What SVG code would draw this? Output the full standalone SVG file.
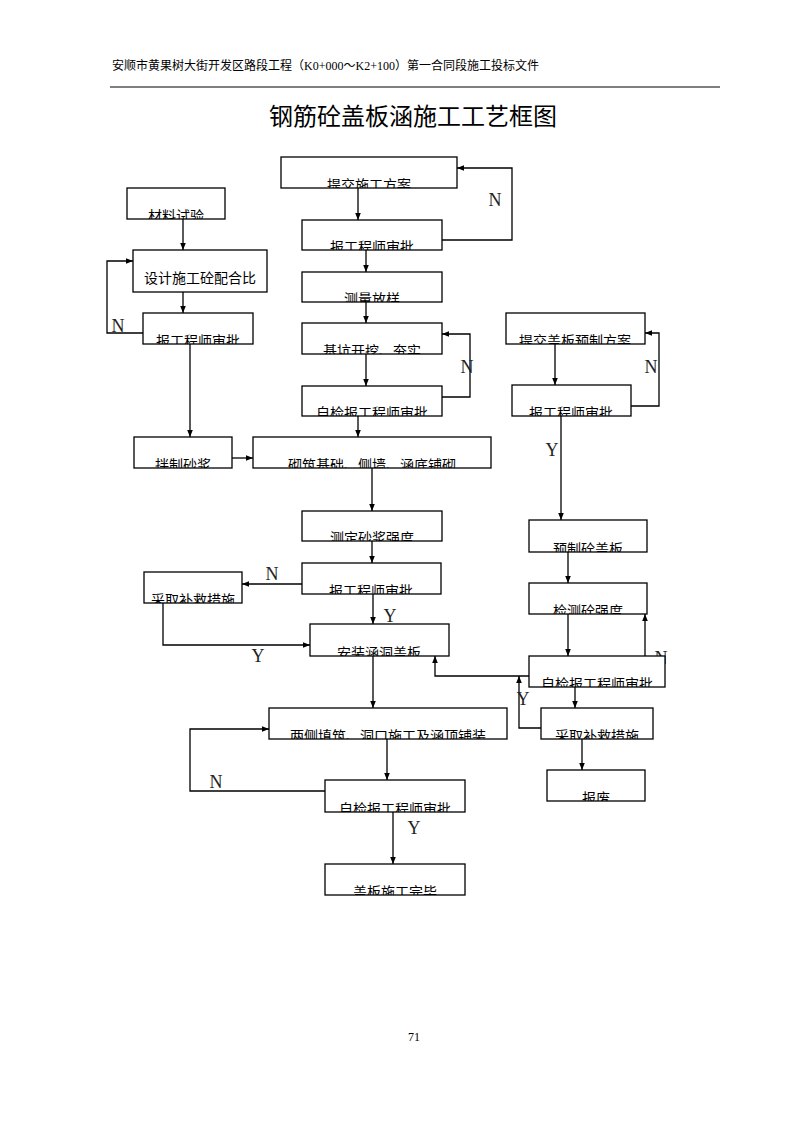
<svg xmlns="http://www.w3.org/2000/svg" xmlns:xlink="http://www.w3.org/1999/xlink" width="794" height="1123" viewBox="0 0 794 1123">
<style>
.bx{fill:#fff;stroke:#000;stroke-width:1.3}
.t{font-family:"Liberation Sans","Noto Sans CJK SC",sans-serif;font-size:14px;fill:#000;text-anchor:middle}
.ln{fill:none;stroke:#000;stroke-width:1.3}
.lb{font-family:"Liberation Serif","DejaVu Serif",serif;font-size:18px;fill:#222;text-anchor:middle}
</style>
<defs>
<marker id="ah" viewBox="0 0 10 10" refX="10" refY="5" markerWidth="7" markerHeight="7" orient="auto" markerUnits="userSpaceOnUse"><path d="M0,1 L10,5 L0,9 z" fill="#000"/></marker>
<clipPath id="c1"><rect x="281" y="157" width="176" height="31"/></clipPath>
<clipPath id="c2"><rect x="302" y="220" width="140" height="30"/></clipPath>
<clipPath id="c3"><rect x="127" y="188" width="98" height="31"/></clipPath>
<clipPath id="c5"><rect x="143" y="313" width="110" height="31"/></clipPath>
<clipPath id="c6"><rect x="302" y="272" width="140" height="30"/></clipPath>
<clipPath id="c7"><rect x="302" y="323" width="140" height="31"/></clipPath>
<clipPath id="c8"><rect x="302" y="386" width="140" height="30"/></clipPath>
<clipPath id="c9"><rect x="506" y="313" width="139" height="31"/></clipPath>
<clipPath id="c10"><rect x="512" y="385" width="119" height="31"/></clipPath>
<clipPath id="c11"><rect x="134" y="437" width="98" height="31"/></clipPath>
<clipPath id="c12"><rect x="253" y="437" width="238" height="31"/></clipPath>
<clipPath id="c13"><rect x="302" y="511" width="140" height="30"/></clipPath>
<clipPath id="c14"><rect x="302" y="563" width="139" height="31"/></clipPath>
<clipPath id="c15"><rect x="144" y="572" width="98" height="31"/></clipPath>
<clipPath id="c16"><rect x="310" y="624" width="139" height="32"/></clipPath>
<clipPath id="c17"><rect x="529" y="520" width="118" height="32"/></clipPath>
<clipPath id="c18"><rect x="529" y="583" width="118" height="31"/></clipPath>
<clipPath id="c19"><rect x="529" y="656" width="136" height="31"/></clipPath>
<clipPath id="c20"><rect x="541" y="708" width="112" height="31"/></clipPath>
<clipPath id="c21"><rect x="547" y="770" width="98" height="31"/></clipPath>
<clipPath id="c22"><rect x="269" y="708" width="238" height="31"/></clipPath>
<clipPath id="c23"><rect x="325" y="780" width="140" height="32"/></clipPath>
<clipPath id="c24"><rect x="325" y="864" width="140" height="31"/></clipPath>
</defs>
<rect width="794" height="1123" fill="#fff"/>
<g id="header">
<text x="112" y="70" font-family="'Liberation Sans','Noto Sans CJK SC',sans-serif" font-size="12" fill="#000">安顺市黄果树大街开发区路段工程（<tspan font-family="'Liberation Serif',serif">K0+000</tspan>～<tspan font-family="'Liberation Serif',serif">K2+100</tspan>）第一合同段施工投标文件</text>
<line x1="110" y1="87" x2="720" y2="87" stroke="#000" stroke-width="1.2"/>
<text x="413" y="125" font-family="'Liberation Sans','Noto Sans CJK SC',sans-serif" font-size="24" fill="#000" text-anchor="middle">钢筋砼盖板涵施工工艺框图</text>
</g>
<g id="connectors">
<path class="ln" d="M358,188 V220" marker-end="url(#ah)"/>
<path class="ln" d="M442,240 H512 V168 H457" marker-end="url(#ah)"/>
<path class="ln" d="M366,250 V272" marker-end="url(#ah)"/>
<path class="ln" d="M366,302 V323" marker-end="url(#ah)"/>
<path class="ln" d="M366,354 V386" marker-end="url(#ah)"/>
<path class="ln" d="M442,397 H470 V334 H442" marker-end="url(#ah)"/>
<path class="ln" d="M358,416 V437" marker-end="url(#ah)"/>
<path class="ln" d="M183,219 V250" marker-end="url(#ah)"/>
<path class="ln" d="M143,333 H107 V261 H133" marker-end="url(#ah)"/>
<path class="ln" d="M183,292 V313" marker-end="url(#ah)"/>
<path class="ln" d="M190,344 V437" marker-end="url(#ah)"/>
<path class="ln" d="M232,458 H253" marker-end="url(#ah)"/>
<path class="ln" d="M372,468 V511" marker-end="url(#ah)"/>
<path class="ln" d="M372,541 V563" marker-end="url(#ah)"/>
<path class="ln" d="M302,584 H242" marker-end="url(#ah)"/>
<path class="ln" d="M373,594 V624" marker-end="url(#ah)"/>
<path class="ln" d="M163,603 V645 H310" marker-end="url(#ah)"/>
<path class="ln" d="M373,656 V708" marker-end="url(#ah)"/>
<path class="ln" d="M555,344 V385" marker-end="url(#ah)"/>
<path class="ln" d="M631,406 H659 V333 H645" marker-end="url(#ah)"/>
<path class="ln" d="M561,416 V520" marker-end="url(#ah)"/>
<path class="ln" d="M568,552 V583" marker-end="url(#ah)"/>
<path class="ln" d="M568,614 V656" marker-end="url(#ah)"/>
<path class="ln" d="M645,656 V614" marker-end="url(#ah)"/>
<path class="ln" d="M529,676 H435 V656" marker-end="url(#ah)"/>
<path class="ln" d="M541,728 H519 V676" marker-end="url(#ah)"/>
<path class="ln" d="M575,687 V708" marker-end="url(#ah)"/>
<path class="ln" d="M582,739 V770" marker-end="url(#ah)"/>
<path class="ln" d="M387,739 V780" marker-end="url(#ah)"/>
<path class="ln" d="M325,791 H190 V729 H269" marker-end="url(#ah)"/>
<path class="ln" d="M393,812 V864" marker-end="url(#ah)"/>
<text class="lb" x="495" y="206">N</text>
<text class="lb" x="118" y="332">N</text>
<text class="lb" x="467" y="373">N</text>
<text class="lb" x="651" y="373">N</text>
<text class="lb" x="552" y="456">Y</text>
<text class="lb" x="272" y="580">N</text>
<text class="lb" x="390" y="622">Y</text>
<text class="lb" x="258" y="662">Y</text>
<text class="lb" x="661" y="664">N</text>
<text class="lb" x="523" y="705">Y</text>
<text class="lb" x="216" y="788">N</text>
<text class="lb" x="414" y="834">Y</text>
</g>
<g id="n1"><rect class="bx" x="281" y="157" width="176" height="31"/><text class="t" x="369" y="190" clip-path="url(#c1)">提交施工方案</text></g>
<g id="n2"><rect class="bx" x="302" y="220" width="140" height="30"/><text class="t" x="372" y="252" clip-path="url(#c2)">报工程师审批</text></g>
<g id="n3"><rect class="bx" x="127" y="188" width="98" height="31"/><text class="t" x="176" y="221" clip-path="url(#c3)">材料试验</text></g>
<g id="n4"><rect class="bx" x="133" y="250" width="134" height="42"/><text class="t" x="200" y="283">设计施工砼配合比</text></g>
<g id="n5"><rect class="bx" x="143" y="313" width="110" height="31"/><text class="t" x="198" y="346" clip-path="url(#c5)">报工程师审批</text></g>
<g id="n6"><rect class="bx" x="302" y="272" width="140" height="30"/><text class="t" x="372" y="304" clip-path="url(#c6)">测量放样</text></g>
<g id="n7"><rect class="bx" x="302" y="323" width="140" height="31"/><text class="t" x="372" y="356" clip-path="url(#c7)">基坑开挖、夯实</text></g>
<g id="n8"><rect class="bx" x="302" y="386" width="140" height="30"/><text class="t" x="372" y="418" clip-path="url(#c8)">自检报工程师审批</text></g>
<g id="n9"><rect class="bx" x="506" y="313" width="139" height="31"/><text class="t" x="575" y="346" clip-path="url(#c9)">提交盖板预制方案</text></g>
<g id="n10"><rect class="bx" x="512" y="385" width="119" height="31"/><text class="t" x="571" y="418" clip-path="url(#c10)">报工程师审批</text></g>
<g id="n11"><rect class="bx" x="134" y="437" width="98" height="31"/><text class="t" x="183" y="470" clip-path="url(#c11)">拌制砂浆</text></g>
<g id="n12"><rect class="bx" x="253" y="437" width="238" height="31"/><text class="t" x="372" y="470" clip-path="url(#c12)">砌筑基础、侧墙、涵底铺砌</text></g>
<g id="n13"><rect class="bx" x="302" y="511" width="140" height="30"/><text class="t" x="372" y="543" clip-path="url(#c13)">测定砂浆强度</text></g>
<g id="n14"><rect class="bx" x="302" y="563" width="139" height="31"/><text class="t" x="371" y="596" clip-path="url(#c14)">报工程师审批</text></g>
<g id="n15"><rect class="bx" x="144" y="572" width="98" height="31"/><text class="t" x="193" y="605" clip-path="url(#c15)">采取补救措施</text></g>
<g id="n16"><rect class="bx" x="310" y="624" width="139" height="32"/><text class="t" x="379" y="658" clip-path="url(#c16)">安装涵洞盖板</text></g>
<g id="n17"><rect class="bx" x="529" y="520" width="118" height="32"/><text class="t" x="588" y="554" clip-path="url(#c17)">预制砼盖板</text></g>
<g id="n18"><rect class="bx" x="529" y="583" width="118" height="31"/><text class="t" x="588" y="616" clip-path="url(#c18)">检测砼强度</text></g>
<g id="n19"><rect class="bx" x="529" y="656" width="136" height="31"/><text class="t" x="597" y="689" clip-path="url(#c19)">自检报工程师审批</text></g>
<g id="n20"><rect class="bx" x="541" y="708" width="112" height="31"/><text class="t" x="597" y="741" clip-path="url(#c20)">采取补救措施</text></g>
<g id="n21"><rect class="bx" x="547" y="770" width="98" height="31"/><text class="t" x="596" y="803" clip-path="url(#c21)">报废</text></g>
<g id="n22"><rect class="bx" x="269" y="708" width="238" height="31"/><text class="t" x="388" y="741" clip-path="url(#c22)">两侧填筑、洞口施工及涵顶铺装</text></g>
<g id="n23"><rect class="bx" x="325" y="780" width="140" height="32"/><text class="t" x="395" y="814" clip-path="url(#c23)">自检报工程师审批</text></g>
<g id="n24"><rect class="bx" x="325" y="864" width="140" height="31"/><text class="t" x="395" y="897" clip-path="url(#c24)">盖板施工完毕</text></g>
<g id="footer"><text x="414" y="1041" font-family="'Liberation Serif',serif" font-size="12" fill="#000" text-anchor="middle">71</text></g>
</svg>
